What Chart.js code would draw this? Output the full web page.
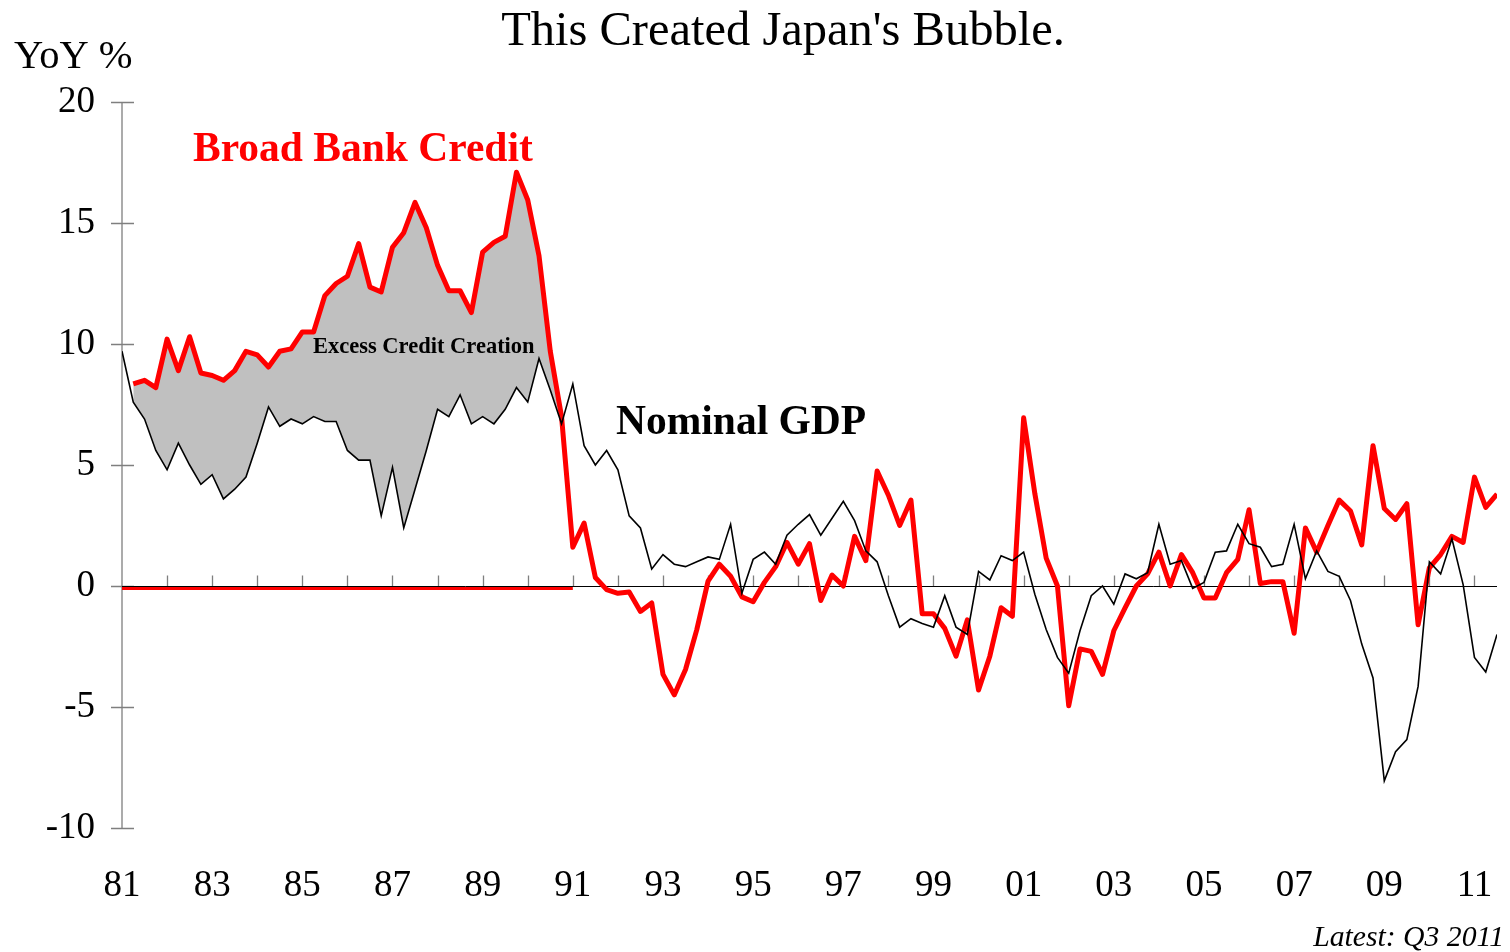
<!DOCTYPE html>
<html>
<head>
<meta charset="utf-8">
<title>This Created Japan's Bubble.</title>
<script src="https://cdn.jsdelivr.net/npm/chart.js@4.4.1/dist/chart.umd.min.js"></script>
<style>
  html, body { margin: 0; padding: 0; background: #fff; }
  canvas { display: block; }
</style>
</head>
<body>
<canvas id="chart" width="1510" height="952"></canvas>
<script>
// quarterly series, first point = 1981 Q1, last = 2011 Q3
const startYear = 1981;
const tickYears = [1981, 1983, 1985, 1987, 1989, 1991, 1993, 1995, 1997, 1999, 2001, 2003, 2005, 2007, 2009, 2011];
const tickLabels = ['81', '83', '85', '87', '89', '91', '93', '95', '97', '99', '01', '03', '05', '07', '09', '11'];
const yTicks = [-10, -5, 0, 5, 10, 15, 20];

// Nominal GDP, YoY %
const gdp = [
  9.7, 7.6, 6.9, 5.6,
  4.8, 5.9, 5.0, 4.2,
  4.6, 3.6, 4.0, 4.5,
  5.9, 7.4, 6.6, 6.9,
  6.7, 7.0, 6.8, 6.8,
  5.6, 5.2, 5.2, 2.9,
  4.9, 2.4, 4.0, 5.6,
  7.3, 7.0, 7.9, 6.7,
  7.0, 6.7, 7.3, 8.2,
  7.6, 9.4, 8.1, 6.7,
  8.35, 5.8, 5.0, 5.6,
  4.8, 2.9, 2.4, 0.7,
  1.3, 0.9, 0.8, 1.0,
  1.2, 1.1, 2.55, -0.3,
  1.1, 1.4, 0.9, 2.1,
  2.55, 2.95, 2.1, 2.8,
  3.5, 2.7, 1.45, 1.0,
  -0.4, -1.7, -1.35, -1.55,
  -1.7, -0.4, -1.7, -2.0,
  0.6, 0.25, 1.25, 1.05,
  1.4, -0.35, -1.8, -2.95,
  -3.6, -1.85, -0.4, 0.0,
  -0.75, 0.5, 0.3, 0.55,
  2.55, 0.9, 1.05, -0.1,
  0.15, 1.4, 1.45, 2.55,
  1.75, 1.6, 0.8, 0.9,
  2.55, 0.3, 1.45, 0.6,
  0.4, -0.6, -2.4, -3.8,
  -8.05, -6.85, -6.35, -4.15,
  1.0, 0.5, 1.95, 0.05,
  -2.95, -3.55, -2.0
];

// Broad bank credit, YoY %
const credit = [
  null, 8.35, 8.5, 8.2,
  10.2, 8.9, 10.3, 8.8,
  8.7, 8.5, 8.9, 9.7,
  9.55, 9.05, 9.7, 9.8,
  10.5, 10.5, 12.0, 12.5,
  12.8, 14.15, 12.35, 12.15,
  14.0, 14.6, 15.85, 14.8,
  13.25, 12.2, 12.2, 11.3,
  13.8, 14.2, 14.45, 17.1,
  15.95, 13.65, 9.7, 7.0,
  1.6, 2.6, 0.35, -0.15,
  -0.3, -0.25, -1.05, -0.7,
  -3.65, -4.5, -3.45, -1.8,
  0.2, 0.9, 0.4, -0.45,
  -0.65, 0.15, 0.8, 1.8,
  0.9, 1.75, -0.6, 0.45,
  0.0, 2.05, 1.05, 4.75,
  3.75, 2.5, 3.55, -1.15,
  -1.15, -1.75, -2.9, -1.4,
  -4.3, -2.9, -0.9, -1.25,
  6.95, 3.8, 1.15, 0.0,
  -4.95, -2.6, -2.7, -3.65,
  -1.85, -0.9, 0.0, 0.5,
  1.4, 0.0, 1.3, 0.55,
  -0.5, -0.5, 0.55, 1.1,
  3.15, 0.1, 0.18, 0.18,
  -1.95, 2.4, 1.4, 2.5,
  3.55, 3.1, 1.7, 5.8,
  3.2, 2.75, 3.4, -1.6,
  0.75, 1.3, 2.05, 1.8,
  4.5, 3.25, 3.8
];

// red stub sitting on the zero line, 81 to 91
const stubYears = [1981, 1991];
const stubValues = [-0.1, -0.1];

// shaded "excess credit" runs up to 1991 Q1
const shadeEnd = 40;

const toPoints = arr => arr.map((v, i) => ({ x: startYear + i / 4, y: v }));
const serif = '"Liberation Serif", "Times New Roman", serif';

const decor = {
    id: 'decor',
    beforeDatasetsDraw(chart) {
        const { ctx, chartArea: a, scales: { x, y } } = chart;
        ctx.save();
        // y axis with crossing ticks
        ctx.strokeStyle = '#7f7f7f';
        ctx.lineWidth = 1.3;
        ctx.beginPath();
        ctx.moveTo(a.left, a.top);
        ctx.lineTo(a.left, a.bottom);
        yTicks.forEach(v => {
            const py = Math.round(y.getPixelForValue(v)) + 0.5;
            ctx.moveTo(a.left - 11, py);
            ctx.lineTo(a.left + 12, py);
        });
        ctx.stroke();
        // year ticks sitting on the zero line
        const y0 = Math.round(y.getPixelForValue(0)) + 0.5;
        ctx.beginPath();
        x.ticks.forEach(t => {
            if (!Number.isInteger(t.value) || t.value === startYear) return;
            const px = Math.round(x.getPixelForValue(t.value)) + 0.5;
            ctx.moveTo(px, y0);
            ctx.lineTo(px, y0 - 11);
        });
        ctx.stroke();
        // zero line
        ctx.strokeStyle = '#000';
        ctx.lineWidth = 1;
        ctx.beginPath();
        ctx.moveTo(a.left, y0);
        ctx.lineTo(a.right, y0);
        ctx.stroke();
        ctx.restore();
    },
    afterDraw(chart) {
        const ctx = chart.ctx;
        ctx.save();
        ctx.textBaseline = 'middle';
        ctx.fillStyle = '#000';

        ctx.textAlign = 'center';
        ctx.font = `48.5px ${serif}`;
        ctx.fillText("This Created Japan's Bubble.", 783, 32);

        ctx.textAlign = 'left';
        ctx.font = `40.5px ${serif}`;
        ctx.fillText('YoY %', 14, 57);

        ctx.fillStyle = '#ff0000';
        ctx.font = `bold 41.5px ${serif}`;
        ctx.fillText('Broad Bank Credit', 193, 150);

        ctx.fillStyle = '#000';
        ctx.font = `bold 22.5px ${serif}`;
        ctx.fillText('Excess Credit Creation', 313, 347);

        ctx.font = `bold 41.5px ${serif}`;
        ctx.fillText('Nominal GDP', 616, 423);

        ctx.textAlign = 'right';
        ctx.font = `italic 29.7px ${serif}`;
        ctx.fillText('Latest: Q3 2011', 1504, 938);
        ctx.restore();
    }
};

new Chart(document.getElementById('chart'), {
    type: 'line',
    data: {
        datasets: [
            {
                label: 'Nominal GDP',
                data: toPoints(gdp),
                borderColor: '#000',
                borderWidth: 1.6,
                fill: false
            },
            {
                label: 'Broad Bank Credit',
                data: toPoints(credit),
                borderColor: '#ff0000',
                borderWidth: 5,
                borderJoinStyle: 'round',
                spanGaps: false,
                fill: false
            },
            {
                label: 'stub',
                data: stubYears.map((yr, i) => ({ x: yr, y: stubValues[i] })),
                borderColor: '#ff0000',
                borderWidth: 3,
                fill: false
            },
            {
                label: 'Excess Credit Creation',
                data: toPoints(credit.slice(0, shadeEnd + 1)),
                borderWidth: 0,
                borderColor: 'rgba(0,0,0,0)',
                fill: { target: 0, above: '#c0c0c0', below: 'rgba(0,0,0,0)' }
            }
        ]
    },
    options: {
        responsive: false,
        animation: false,
        layout: { padding: { top: 102, right: 13, left: 0, bottom: 0 } },
        elements: { point: { radius: 0 }, line: { tension: 0 } },
        plugins: {
            legend: { display: false },
            tooltip: { enabled: false }
        },
        scales: {
            x: {
                type: 'linear',
                min: startYear,
                max: startYear + (gdp.length - 1) / 4,
                grid: { display: false, drawTicks: false },
                border: { display: false },
                ticks: {
                    stepSize: 1,
                    includeBounds: false,
                    autoSkip: false,
                    maxRotation: 0,
                    padding: 36,
                    color: '#000',
                    font: { family: serif, size: 37 },
                    callback: v => {
                        const k = tickYears.indexOf(v);
                        return k >= 0 ? tickLabels[k] : '';
                    }
                },
                afterFit: s => {
                    s.height = 124;
                    s.paddingLeft = 0;
                    s.paddingRight = 0;
                }
            },
            y: {
                min: -10,
                max: 20,
                grid: { display: false, drawTicks: false },
                border: { display: false },
                ticks: {
                    stepSize: 5,
                    padding: 27,
                    color: '#000',
                    font: { family: serif, size: 37 },
                    callback: v => yTicks.includes(v) ? String(v) : ''
                },
                afterFit: s => {
                    s.width = 122;
                    s.paddingTop = 0;
                    s.paddingBottom = 0;
                }
            }
        }
    },
    plugins: [decor]
});
</script>
</body>
</html>
